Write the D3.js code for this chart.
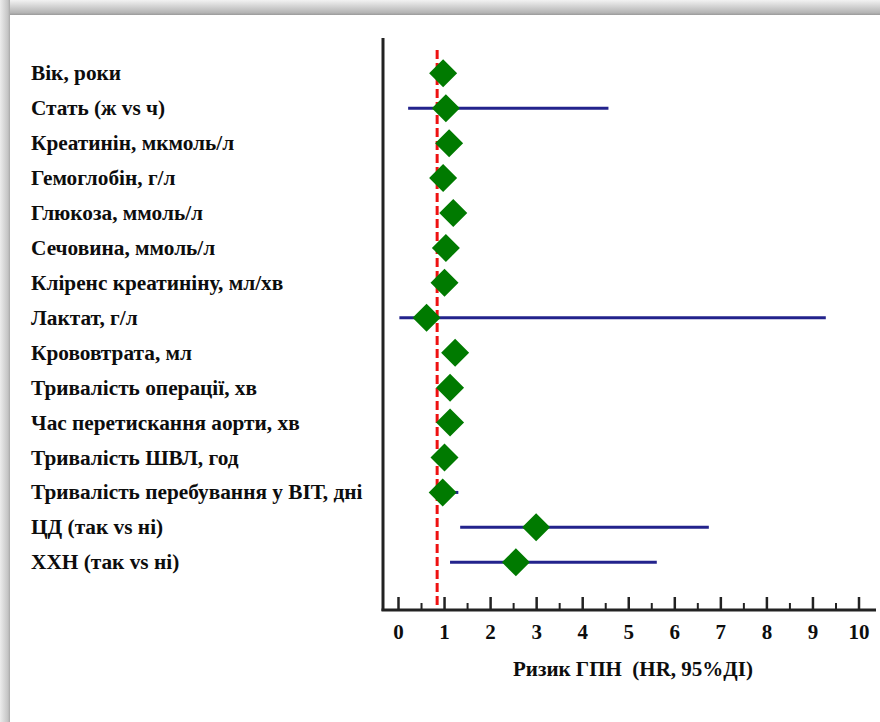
<!DOCTYPE html>
<html>
<head>
<meta charset="utf-8">
<script src="https://cdn.jsdelivr.net/npm/d3@7"></script>
<style>
  html, body { margin: 0; padding: 0; background: #fff; }
  svg { display: block; }
  .serif { font-family: "Liberation Serif", "Times New Roman", Times, serif; font-weight: bold; }
</style>
</head>
<body>
<svg id="chart" width="880" height="722"></svg>
<script>
// ---------- DATA ----------
const categories = [
  "Вік, роки",
  "Стать (ж vs ч)",
  "Креатинін, мкмоль/л",
  "Гемоглобін, г/л",
  "Глюкоза, ммоль/л",
  "Сечовина, ммоль/л",
  "Кліренс креатиніну, мл/хв",
  "Лактат, г/л",
  "Крововтрата, мл",
  "Тривалість операції, хв",
  "Час перетискання аорти, хв",
  "Тривалість ШВЛ, год",
  "Тривалість перебування у ВІТ, дні",
  "ЦД (так vs ні)",
  "ХХН (так vs ні)"
];
const hr    = [0.98, 1.04, 1.11, 0.98, 1.20, 1.04, 1.01, 0.62, 1.24, 1.13, 1.13, 1.01, 0.97, 3.00, 2.56];
const lower = [0.97, 0.22, 1.09, 0.97, 1.15, 1.01, 0.99, 0.03, 1.20, 1.10, 1.10, 0.99, 0.90, 1.35, 1.13];
const upper = [0.99, 4.57, 1.13, 0.99, 1.26, 1.07, 1.03, 9.29, 1.28, 1.16, 1.16, 1.03, 1.31, 6.75, 5.62];
const majorTicks = [0,1,2,3,4,5,6,7,8,9,10];
const minorTicks = [0.5,1.5,2.5,3.5,4.5,5.5,6.5,7.5,8.5,9.5];
const refLine = 0.85;
const xTitle = "Ризик ГПН  (HR, 95%ДІ)";

// ---------- LAYOUT ----------
const svg = d3.select("#chart");
const W = 880, H = 722;
const plotLeft = 383, plotRight = 876, plotTop = 38, axisY = 610;

// frame / shadow
const defs = svg.append("defs");
const gTop = defs.append("linearGradient").attr("id","gTop").attr("x1",0).attr("y1",0).attr("x2",0).attr("y2",1);
gTop.append("stop").attr("offset","0%").attr("stop-color","#f2f2f2");
gTop.append("stop").attr("offset","85%").attr("stop-color","#b4b4b4");
gTop.append("stop").attr("offset","100%").attr("stop-color","#9a9a9a");
const gLeft = defs.append("linearGradient").attr("id","gLeft").attr("x1",0).attr("y1",0).attr("x2",1).attr("y2",0);
gLeft.append("stop").attr("offset","0%").attr("stop-color","#ececec");
gLeft.append("stop").attr("offset","80%").attr("stop-color","#c4c4c4");
gLeft.append("stop").attr("offset","100%").attr("stop-color","#a8a8a8");

svg.append("rect").attr("x",0).attr("y",0).attr("width",W).attr("height",H).attr("fill","#fff");
svg.append("rect").attr("x",0).attr("y",0).attr("width",W).attr("height",15).attr("fill","url(#gTop)");
svg.append("rect").attr("x",0).attr("y",0).attr("width",10).attr("height",H).attr("fill","url(#gLeft)");

// scales
const x = d3.scaleLinear().domain([0, 10]).range([398, 858.5]);
const y = d3.scalePoint().domain(categories).range([73.3, 562.3]);

// category labels
svg.append("g").selectAll("text")
  .data(categories).join("text")
  .attr("class", "serif")
  .attr("x", 31)
  .attr("y", d => y(d))
  .attr("dy", "0.33em")
  .attr("font-size", 21.3)
  .attr("fill", "#0d0d0d")
  .text(d => d);

// axes lines
svg.append("line").attr("x1", plotLeft).attr("x2", plotLeft).attr("y1", plotTop).attr("y2", axisY + 1)
  .attr("stroke", "#222").attr("stroke-width", 3);
svg.append("line").attr("x1", plotLeft - 1.5).attr("x2", plotRight).attr("y1", axisY).attr("y2", axisY)
  .attr("stroke", "#222").attr("stroke-width", 3);

// major ticks
const axMajor = svg.append("g").attr("transform", `translate(0,${axisY})`)
  .call(d3.axisBottom(x).tickValues(majorTicks).tickSizeInner(-13).tickSizeOuter(0).tickPadding(14).tickFormat(d3.format("d")));
axMajor.select(".domain").remove();
axMajor.attr("font-family", null).attr("font-size", null);
axMajor.selectAll(".tick line").attr("stroke", "#222").attr("stroke-width", 2.5);
axMajor.selectAll(".tick text").attr("class", "serif")
  .attr("font-size", 21).attr("fill", "#0d0d0d");

// minor ticks
const axMinor = svg.append("g").attr("transform", `translate(0,${axisY})`)
  .call(d3.axisBottom(x).tickValues(minorTicks).tickSizeInner(-7).tickSizeOuter(0).tickFormat(""));
axMinor.select(".domain").remove();
axMinor.selectAll(".tick line").attr("stroke", "#222").attr("stroke-width", 2);

// x title
svg.append("text")
  .attr("class", "serif")
  .attr("x", 633).attr("y", 669).attr("dy", "0.33em")
  .attr("text-anchor", "middle")
  .attr("font-size", 21)
  .attr("fill", "#0d0d0d")
  .style("white-space", "pre")
  .text(xTitle);

// reference line
svg.append("line")
  .attr("x1", x(refLine)).attr("x2", x(refLine))
  .attr("y1", 50).attr("y2", axisY - 1)
  .attr("stroke", "#ee1111").attr("stroke-width", 3).attr("stroke-dasharray", "9,4");

// CI lines
const rows = categories.map((c, i) => ({c, hr: hr[i], lo: lower[i], hi: upper[i]}));
svg.append("g").selectAll("line")
  .data(rows).join("line")
  .attr("x1", d => x(d.lo)).attr("x2", d => x(d.hi))
  .attr("y1", d => y(d.c)).attr("y2", d => y(d.c))
  .attr("stroke", "#23238c").attr("stroke-width", 3);

// diamonds
const r = 14;
svg.append("g").selectAll("path")
  .data(rows).join("path")
  .attr("d", d => {
    const cx = x(d.hr), cy = y(d.c);
    return `M${cx},${cy - r}L${cx + r},${cy}L${cx},${cy + r}L${cx - r},${cy}Z`;
  })
  .attr("fill", "#007a00");
</script>
</body>
</html>
